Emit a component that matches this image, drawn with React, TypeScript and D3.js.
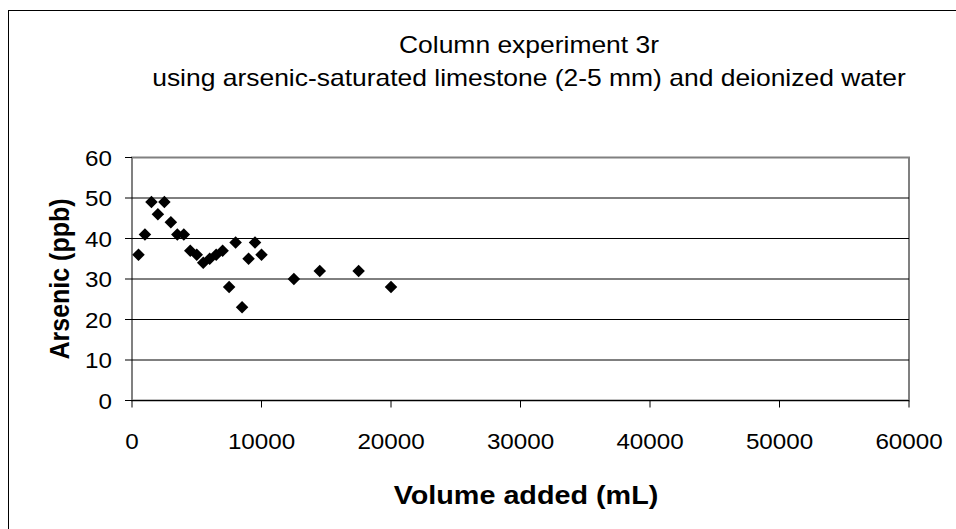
import React from "react";
import * as d3 from "d3";

const volumeMl = [500, 1000, 1500, 2000, 2500, 3000, 3500, 4000, 4500, 5000, 5500, 6000, 6500, 7000, 7500, 8000, 8500, 9000, 9500, 10000, 12500, 14500, 17500, 20000];
const arsenicPpb = [36, 41, 49, 46, 49, 44, 41, 41, 37, 36, 34, 35, 36, 37, 28, 39, 23, 35, 39, 36, 30, 32, 32, 28];
const xTicks = [0, 10000, 20000, 30000, 40000, 50000, 60000];
const yTicks = [0, 10, 20, 30, 40, 50, 60];
const titleLines = ["Column experiment 3r", "using arsenic-saturated limestone (2-5 mm) and deionized water"];

const W = 956;
const H = 529;
const font = "'Liberation Sans', Arial, sans-serif";

function SText(props: { x: number; y: number; sx: number; size: number; anchor: string; bold?: boolean; children: any }) {
  return (
    <text
      transform={`translate(${props.x},${props.y}) scale(${props.sx},1)`}
      textAnchor={props.anchor}
      fontFamily={font}
      fontSize={props.size}
      fontWeight={props.bold ? "bold" : "normal"}
      fill="#000"
    >
      {props.children}
    </text>
  );
}

export default function App() {
  const x = d3.scaleLinear().domain([0, 60000]).range([132, 909]);
  const y = d3.scaleLinear().domain([0, 60]).range([400.5, 157.5]);
  const diamond = d3.symbol().type(d3.symbolDiamond2).size(100);
  return (
    <svg width={W} height={H} style={{ position: "absolute", left: 0, top: 0 }}>
      <rect x={0} y={0} width={W} height={H} fill="#fff" />
      <rect x={8.5} y={10.5} width={W + 20} height={H + 20} fill="none" stroke="#000" strokeWidth={1} />
      {titleLines.map((t, i) => (
        <SText key={i} x={529} y={53 + i * 33} sx={1.15} size={23} anchor="middle">{t}</SText>
      ))}
      <rect x={x(0)} y={y(60)} width={x(60000) - x(0)} height={y(0) - y(60)} fill="none" stroke="#808080" strokeWidth={2} />
      {yTicks.filter(t => t > 0 && t < 60).map(t => (
        <line key={t} x1={x(0)} x2={x(60000)} y1={y(t)} y2={y(t)} stroke="#000" strokeWidth={1} />
      ))}
      <line x1={x(0)} x2={x(60000)} y1={y(0)} y2={y(0)} stroke="#000" strokeWidth={1} />
      {xTicks.map(t => (
        <g key={t}>
          <line x1={x(t)} x2={x(t)} y1={y(0)} y2={y(0) + 7} stroke="#000" />
          <SText x={x(t)} y={449} sx={1.1} size={22} anchor="middle">{t}</SText>
        </g>
      ))}
      {yTicks.map(t => (
        <g key={t}>
          <line x1={x(0) - 7} x2={x(0)} y1={y(t)} y2={y(t)} stroke="#000" />
          <SText x={112} y={y(t) + 8} sx={1.1} size={22} anchor="end">{t}</SText>
        </g>
      ))}
      {volumeMl.map((v, i) => (
        <path key={i} d={diamond() as string} transform={`translate(${x(v)},${y(arsenicPpb[i])})`} fill="#000" />
      ))}
      <SText x={526} y={504} sx={1.15} size={25} anchor="middle" bold>Volume added (mL)</SText>
      <text transform={`translate(69,${y(30)}) rotate(-90) scale(1,1.12)`} textAnchor="middle" fontFamily={font} fontSize={25} fontWeight="bold" fill="#000">Arsenic (ppb)</text>
    </svg>
  );
}
